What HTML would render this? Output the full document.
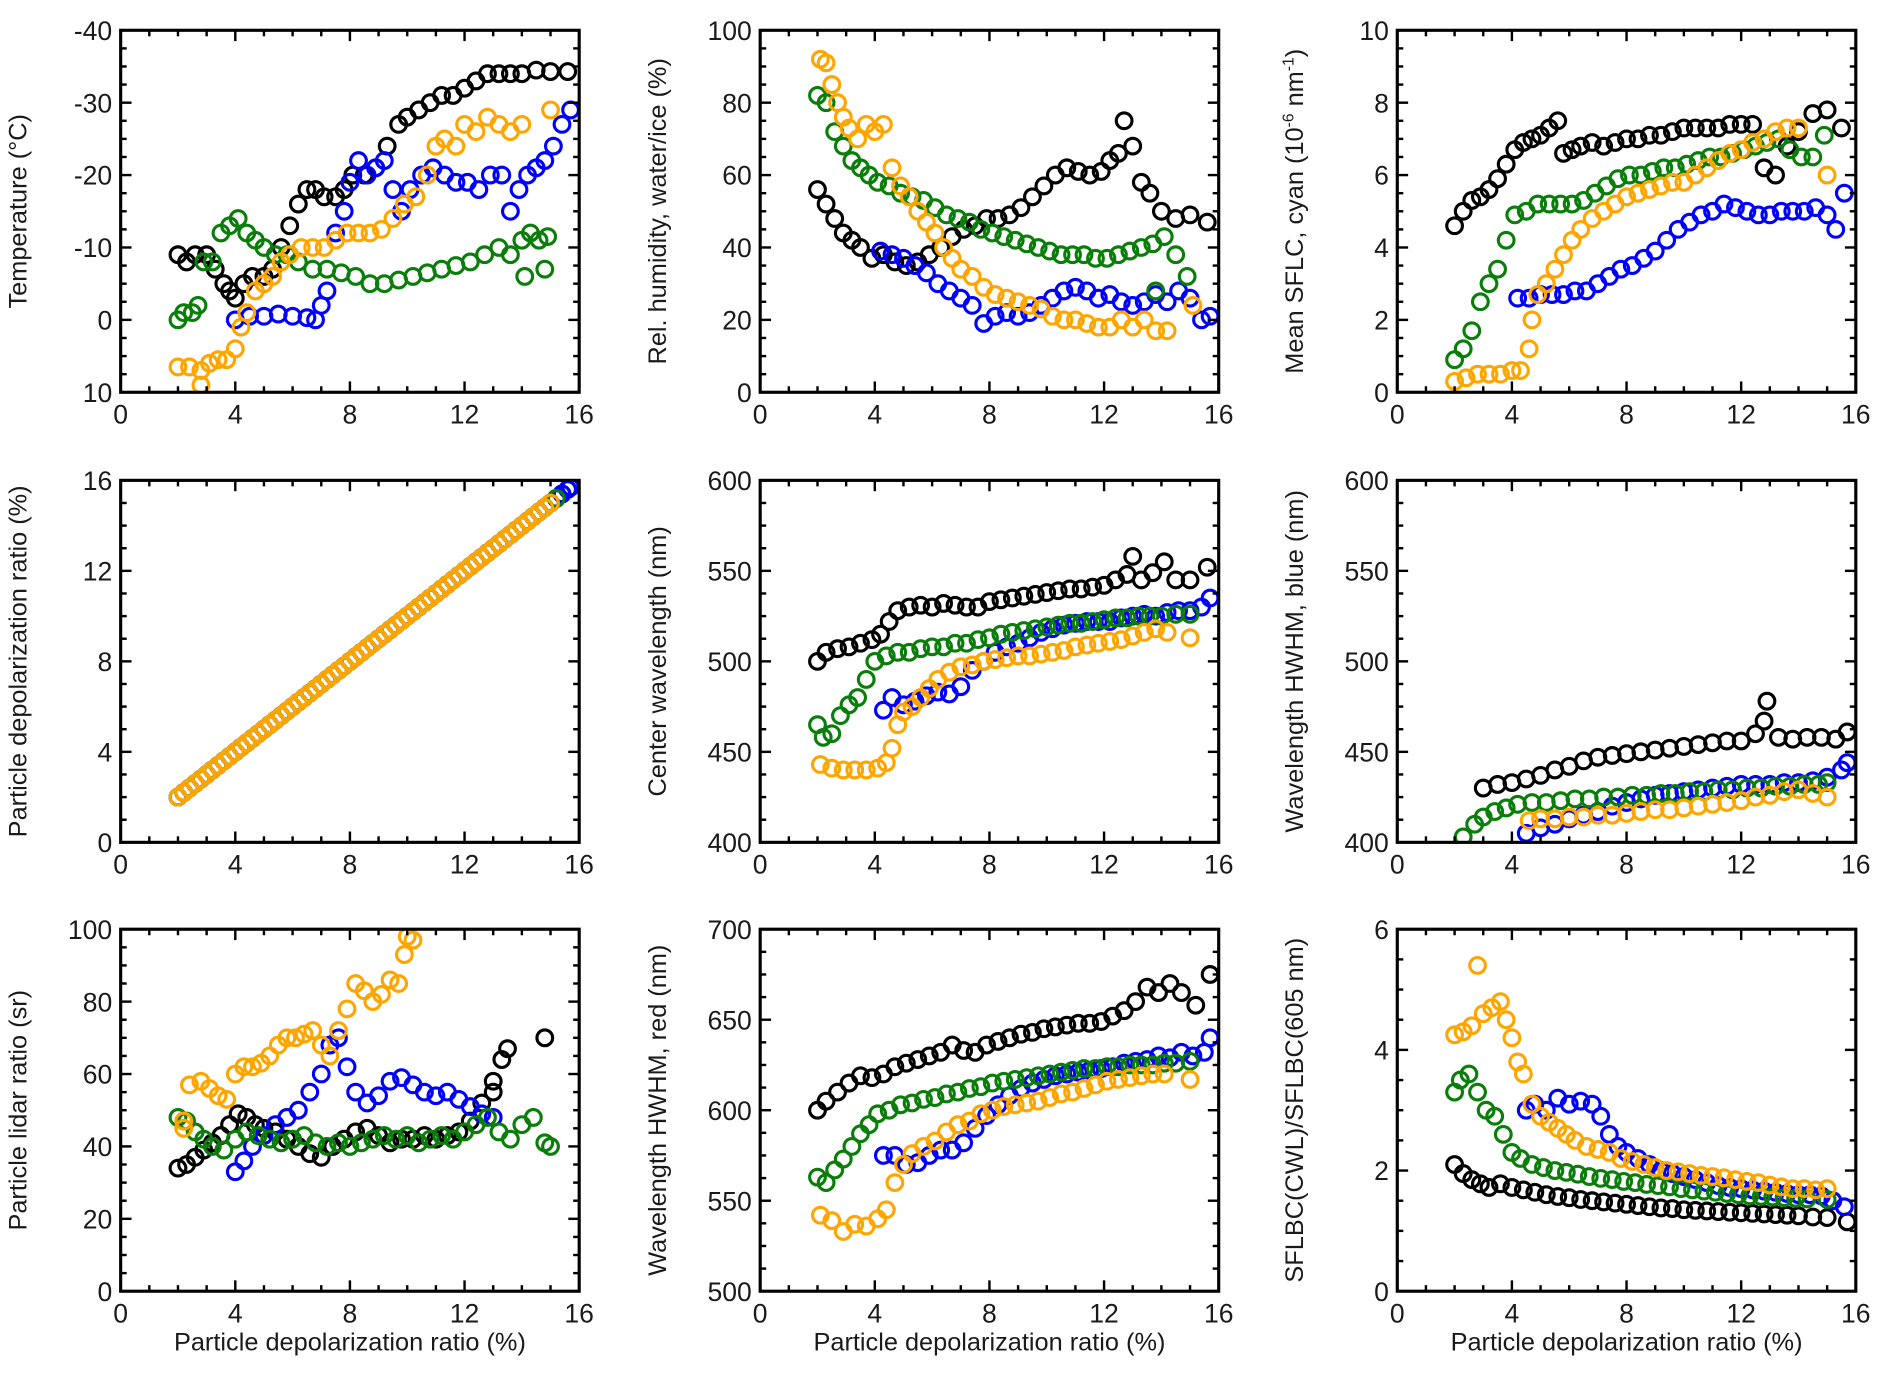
<!DOCTYPE html>
<html><head><meta charset="utf-8"><style>
html,body{margin:0;padding:0;background:#fff}
svg{display:block}
text{font-family:"Liberation Sans",Arial,sans-serif;fill:#1a1a1a}
</style></head><body>
<svg id="fig" width="1892" height="1377" viewBox="0 0 1568 1141" xmlns="http://www.w3.org/2000/svg"></svg>
<script>
// ---- data (x = particle depolarization ratio %, y = panel quantity) ----
const p1_black=[[2,-9],[2.3,-8],[2.6,-9],[3,-9],[3.3,-7],[3.6,-5],[3.8,-4],[4,-3],[4.3,-5],[4.6,-6],[5,-6],[5.3,-7],[5.6,-10],[5.9,-13],[6.2,-16],[6.5,-18],[6.8,-18],[7.1,-17],[7.5,-17],[7.8,-18],[8.1,-20],[8.5,-20],[8.9,-21],[9.3,-24],[9.7,-27],[10,-28],[10.4,-29],[10.8,-30],[11.2,-31],[11.6,-31],[12,-32],[12.4,-33],[12.8,-34],[13.2,-34],[13.6,-34],[14,-34],[14.5,-34.5],[15,-34.3],[15.6,-34.3]];
const p1_blue=[[4,0],[4.5,-0.5],[5,-0.5],[5.5,-0.8],[6,-0.5],[6.5,-0.3],[6.8,0],[7,-2],[7.2,-4],[7.5,-12],[7.8,-15],[8,-19],[8.3,-22],[8.6,-20],[8.9,-21],[9.2,-22],[9.5,-18],[9.8,-15],[10.1,-18],[10.5,-20],[10.9,-21],[11.3,-20],[11.7,-19],[12.1,-19],[12.5,-18],[12.9,-20],[13.3,-20],[13.6,-15],[13.9,-18],[14.2,-20],[14.5,-21],[14.8,-22],[15.1,-24],[15.4,-27],[15.7,-29]];
const p1_green=[[2,0],[2.2,-1],[2.5,-1],[2.7,-2],[2.9,-8],[3.2,-8],[3.5,-12],[3.8,-13],[4.1,-14],[4.4,-12],[4.7,-11],[5,-10],[5.4,-9],[5.8,-9],[6.2,-8],[6.7,-7],[7.2,-7],[7.7,-6.5],[8.2,-6],[8.7,-5],[9.2,-5],[9.7,-5.5],[10.2,-6],[10.7,-6.5],[11.2,-7],[11.7,-7.5],[12.2,-8],[12.7,-9],[13.2,-10],[13.6,-9],[14,-11],[14.3,-12],[14.6,-11],[14.9,-11.5],[14.1,-6],[14.8,-7]];
const p1_orange=[[2,6.5],[2.4,6.5],[2.8,7],[3.1,6],[3.4,5.5],[3.7,5.5],[4,4],[4.2,1],[4.4,-1],[4.7,-4],[5,-5],[5.3,-6],[5.6,-8],[5.9,-9],[6.3,-10],[6.7,-10],[7.1,-10],[7.5,-11],[7.9,-12],[8.3,-12],[8.7,-12],[9.1,-12.5],[9.5,-14],[9.9,-16],[10.3,-17],[10.7,-20],[11,-24],[11.3,-25],[11.7,-24],[12,-27],[12.4,-26],[12.8,-28],[13.2,-27],[13.6,-26],[14,-27],[15,-29],[2.8,9]];
const p2_black=[[2,56],[2.3,52],[2.6,48],[2.9,44],[3.2,42],[3.5,40],[3.9,37],[4.3,38],[4.7,36],[5.1,35],[5.5,36],[5.9,38],[6.3,40],[6.7,43],[7.1,45],[7.5,46],[7.9,48],[8.3,48],[8.7,49],[9.1,51],[9.5,54],[9.9,57],[10.3,60],[10.7,62],[11.1,61],[11.5,60],[11.9,61],[12.2,64],[12.5,66],[12.7,75],[13,68],[13.3,58],[13.6,55],[14,50],[14.5,48],[15,49],[15.6,47]];
const p2_blue=[[4.2,39],[4.6,38],[5,37],[5.4,35],[5.8,33],[6.2,30],[6.6,28],[7,26],[7.4,24],[7.8,19],[8.2,21],[8.6,22],[9,21],[9.4,22],[9.8,24],[10.2,26],[10.6,28],[11,29],[11.4,28],[11.8,26],[12.2,27],[12.6,25],[13,24],[13.4,25],[13.8,27],[14.2,25],[14.6,28],[15,26],[15.4,20],[15.7,21]];
const p2_green=[[2,82],[2.3,80],[2.6,72],[2.9,68],[3.2,64],[3.5,62],[3.8,60],[4.1,58],[4.5,57],[4.9,55],[5.3,54],[5.7,53],[6.1,51],[6.5,49],[6.9,48],[7.3,47],[7.7,45],[8.1,44],[8.5,43],[8.9,42],[9.3,41],[9.7,40],[10.1,39],[10.5,38],[10.9,38],[11.3,38],[11.7,37],[12.1,37],[12.5,38],[12.9,39],[13.3,40],[13.7,41],[14.1,43],[14.5,38],[14.9,32],[13.8,28]];
const p2_orange=[[2.1,92],[2.3,91],[2.5,85],[2.7,80],[2.9,76],[3.1,73],[3.4,70],[3.7,74],[4,72],[4.3,74],[4.6,62],[4.9,57],[5.2,54],[5.5,50],[5.8,47],[6.1,44],[6.4,40],[6.7,37],[7,34],[7.4,32],[7.8,29],[8.2,27],[8.6,26],[9,25],[9.4,24],[9.8,23],[10.2,21],[10.6,20],[11,20],[11.4,19],[11.8,18],[12.2,18],[12.6,20],[13,18],[13.4,20],[13.8,17],[14.2,17],[15.1,24]];
const p3_black=[[2,4.6],[2.3,5],[2.6,5.3],[2.9,5.4],[3.2,5.6],[3.5,5.9],[3.8,6.3],[4.1,6.7],[4.4,6.9],[4.7,7],[5,7.1],[5.3,7.3],[5.6,7.5],[5.8,6.6],[6.1,6.7],[6.4,6.8],[6.8,6.9],[7.2,6.8],[7.6,6.9],[8,7],[8.4,7],[8.8,7.1],[9.2,7.1],[9.6,7.2],[10,7.3],[10.4,7.3],[10.8,7.3],[11.2,7.3],[11.6,7.4],[12,7.4],[12.4,7.4],[12.8,6.2],[13.2,6],[13.6,6.8],[14,7.2],[14.5,7.7],[15,7.8],[15.5,7.3]];
const p3_blue=[[4.2,2.6],[4.6,2.6],[5,2.7],[5.4,2.7],[5.8,2.7],[6.2,2.8],[6.6,2.8],[7,3],[7.4,3.2],[7.8,3.4],[8.2,3.5],[8.6,3.7],[9,3.9],[9.4,4.2],[9.8,4.5],[10.2,4.7],[10.6,4.9],[11,5],[11.4,5.2],[11.8,5.1],[12.2,5],[12.6,4.9],[13,4.9],[13.4,5],[13.8,5],[14.2,5],[14.6,5.1],[15,4.9],[15.3,4.5],[15.6,5.5]];
const p3_green=[[2,0.9],[2.3,1.2],[2.6,1.7],[2.9,2.5],[3.2,3],[3.5,3.4],[3.8,4.2],[4.1,4.9],[4.5,5],[4.9,5.2],[5.3,5.2],[5.7,5.2],[6.1,5.2],[6.5,5.3],[6.9,5.5],[7.3,5.7],[7.7,5.9],[8.1,6],[8.5,6],[8.9,6.1],[9.3,6.2],[9.7,6.2],[10.1,6.3],[10.5,6.4],[10.9,6.5],[11.3,6.5],[11.7,6.6],[12.1,6.7],[12.5,6.8],[12.9,6.9],[13.3,7],[13.7,6.7],[14.1,6.5],[14.5,6.5],[14.9,7.1]];
const p3_orange=[[2,0.3],[2.4,0.4],[2.8,0.5],[3.2,0.5],[3.6,0.5],[4,0.6],[4.3,0.6],[4.6,1.2],[4.7,2],[4.9,2.7],[5.2,3],[5.5,3.4],[5.8,3.8],[6.1,4.2],[6.4,4.5],[6.8,4.8],[7.2,5],[7.6,5.2],[8,5.4],[8.4,5.5],[8.8,5.6],[9.2,5.7],[9.6,5.8],[10,5.8],[10.4,6],[10.8,6.2],[11.2,6.4],[11.6,6.6],[12,6.7],[12.4,6.9],[12.8,7],[13.2,7.2],[13.6,7.3],[14,7.3],[15,6]];
const p4_x=[2,2.2,2.4,2.6,2.8,3,3.2,3.4,3.6,3.8,4,4.2,4.4,4.6,4.8,5,5.2,5.4,5.6,5.8,6,6.2,6.4,6.6,6.8,7,7.2,7.4,7.6,7.8,8,8.2,8.4,8.6,8.8,9,9.2,9.4,9.6,9.8,10,10.2,10.4,10.6,10.8,11,11.2,11.4,11.6,11.8,12,12.2,12.4,12.6,12.8,13,13.2,13.4,13.6,13.8,14,14.2,14.4,14.6,14.8,15,15.2,15.4,15.6,15.7];
const p4_y=[2,2.2,2.4,2.6,2.8,3,3.2,3.4,3.6,3.8,4,4.2,4.4,4.6,4.8,5,5.2,5.4,5.6,5.8,6,6.2,6.4,6.6,6.8,7,7.2,7.4,7.6,7.8,8,8.2,8.4,8.6,8.8,9,9.2,9.4,9.6,9.8,10,10.2,10.4,10.6,10.8,11,11.2,11.4,11.6,11.8,12,12.2,12.4,12.6,12.8,13,13.2,13.4,13.6,13.8,14,14.2,14.4,14.6,14.8,15,15.2,15.4,15.6,15.7];
const p4_counts={black:70,blue:70,green:67,orange:66};
const p5_black=[[2,500],[2.3,505],[2.7,507],[3.1,508],[3.5,510],[3.9,512],[4.2,515],[4.5,522],[4.8,528],[5.2,530],[5.6,531],[6,530],[6.4,532],[6.8,531],[7.2,530],[7.6,530],[8,533],[8.4,534],[8.8,535],[9.2,536],[9.6,537],[10,538],[10.4,539],[10.8,540],[11.2,540],[11.6,541],[12,542],[12.4,545],[12.8,548],[13,558],[13.3,545],[13.7,549],[14.1,555],[14.5,545],[15,545],[15.6,552]];
const p5_blue=[[4.3,473],[4.6,480],[5,476],[5.4,478],[5.8,481],[6.2,483],[6.6,482],[7,486],[7.4,495],[7.8,500],[8.2,505],[8.6,508],[9,510],[9.4,513],[9.8,516],[10.2,518],[10.6,520],[11,521],[11.4,522],[11.8,522],[12.2,522],[12.6,524],[13,525],[13.4,526],[13.8,525],[14.2,527],[14.6,528],[15,528],[15.4,530],[15.7,535]];
const p5_green=[[2,465],[2.2,458],[2.5,460],[2.8,470],[3.1,476],[3.4,480],[3.7,490],[4,500],[4.4,503],[4.8,505],[5.2,505],[5.6,507],[6,508],[6.4,508],[6.8,510],[7.2,510],[7.6,512],[8,513],[8.4,515],[8.8,516],[9.2,517],[9.6,518],[10,519],[10.4,520],[10.8,521],[11.2,521],[11.6,522],[12,523],[12.4,524],[12.8,524],[13.2,525],[13.6,525],[14,525],[14.5,526],[15,526]];
const p5_orange=[[2.1,443],[2.5,441],[2.9,440],[3.3,440],[3.7,440],[4.1,441],[4.4,444],[4.6,452],[4.8,465],[5,472],[5.3,475],[5.6,480],[5.9,485],[6.2,490],[6.6,494],[7,497],[7.4,498],[7.8,500],[8.2,501],[8.6,502],[9,503],[9.4,503],[9.8,504],[10.2,505],[10.6,506],[11,508],[11.4,509],[11.8,510],[12.2,511],[12.6,512],[13,514],[13.4,516],[13.8,518],[14.2,516],[15,513]];
const p6_black=[[3,430],[3.5,432],[4,433],[4.5,435],[5,437],[5.5,440],[6,442],[6.5,445],[7,447],[7.5,448],[8,449],[8.5,450],[9,451],[9.5,452],[10,453],[10.5,454],[11,455],[11.5,456],[12,456],[12.5,460],[12.8,467],[12.9,478],[13.3,458],[13.8,457],[14.3,458],[14.8,458],[15.3,457],[15.7,461]];
const p6_blue=[[4.5,405],[5,408],[5.5,410],[6,413],[6.5,415],[7,417],[7.5,420],[8,422],[8.5,424],[9,426],[9.5,427],[10,428],[10.5,429],[11,430],[11.5,431],[12,432],[12.5,432],[13,432],[13.5,433],[14,433],[14.5,434],[15,436],[15.5,440],[15.7,444]];
const p6_green=[[2.3,403],[2.7,410],[3,414],[3.4,417],[3.8,419],[4.2,421],[4.7,422],[5.2,422],[5.7,423],[6.2,424],[6.7,424],[7.2,425],[7.7,425],[8.2,426],[8.7,426],[9.2,427],[9.7,427],[10.2,428],[10.7,428],[11.2,429],[11.7,429],[12.2,430],[12.7,430],[13.2,431],[13.7,431],[14.2,432],[14.7,432],[15,433]];
const p6_orange=[[4.6,412],[5,413],[5.5,413],[6,414],[6.5,414],[7,415],[7.5,415],[8,416],[8.5,417],[9,418],[9.5,418],[10,419],[10.5,420],[11,421],[11.5,422],[12,423],[12.5,425],[13,426],[13.5,428],[14,429],[14.5,427],[15,425]];
const p7_black=[[2,34],[2.3,35],[2.6,37],[2.9,39],[3.2,41],[3.5,43],[3.8,46],[4.1,49],[4.4,48],[4.7,46],[5,45],[5.4,44],[5.8,42],[6.2,40],[6.6,38],[7,37],[7.4,40],[7.8,42],[8.2,44],[8.6,45],[9,43],[9.4,41],[9.8,42],[10.2,42],[10.6,43],[11,42],[11.4,43],[11.8,44],[12.2,47],[12.6,52],[13,55],[13.3,64],[13.5,67],[14.8,70],[13,58]];
const p7_blue=[[4,33],[4.3,36],[4.6,40],[5,43],[5.4,46],[5.8,48],[6.2,50],[6.6,55],[7,60],[7.3,68],[7.6,70],[7.9,62],[8.2,55],[8.6,52],[9,54],[9.4,58],[9.8,59],[10.2,57],[10.6,55],[11,54],[11.4,55],[11.8,53],[12.2,51],[12.6,49],[13,48]];
const p7_green=[[2,48],[2.3,47],[2.6,44],[2.9,42],[3.2,40],[3.6,39],[4,42],[4.4,44],[4.8,43],[5.2,42],[5.6,41],[6,42],[6.4,43],[6.8,41],[7.2,40],[7.6,41],[8,40],[8.4,41],[8.8,42],[9.2,43],[9.6,42],[10,43],[10.4,41],[10.8,42],[11.2,43],[11.6,42],[12,44],[12.4,46],[12.8,48],[13.2,44],[13.6,42],[14,46],[14.4,48],[14.8,41],[15,40]];
const p7_orange=[[2.2,45],[2.2,47],[2.4,57],[2.8,58],[3.1,56],[3.4,54],[3.7,53],[4,60],[4.3,62],[4.6,62],[4.9,63],[5.2,65],[5.5,68],[5.8,70],[6.1,70],[6.4,71],[6.7,72],[7,68],[7.3,65],[7.6,72],[7.9,78],[8.2,85],[8.5,83],[8.8,80],[9.1,82],[9.4,86],[9.7,85],[9.9,93],[10,98],[10.2,97]];
const p8_black=[[2,600],[2.3,605],[2.7,610],[3.1,615],[3.5,619],[3.9,618],[4.3,620],[4.7,624],[5.1,626],[5.5,628],[5.9,630],[6.3,632],[6.7,636],[7.1,633],[7.5,632],[7.9,636],[8.3,638],[8.7,640],[9.1,642],[9.5,643],[9.9,645],[10.3,646],[10.7,647],[11.1,648],[11.5,648],[11.9,649],[12.3,652],[12.7,655],[13.1,660],[13.5,668],[13.9,665],[14.3,670],[14.7,665],[15.2,658],[15.7,675]];
const p8_blue=[[4.3,575],[4.7,575],[5.1,570],[5.5,571],[5.9,575],[6.3,578],[6.7,578],[7.1,582],[7.5,590],[7.9,597],[8.3,603],[8.7,608],[9.1,612],[9.5,615],[9.9,617],[10.3,619],[10.7,620],[11.1,621],[11.5,622],[11.9,623],[12.3,624],[12.7,626],[13.1,627],[13.5,628],[13.9,630],[14.3,629],[14.7,632],[15.1,630],[15.5,632],[15.7,640]];
const p8_green=[[2,563],[2.3,560],[2.6,567],[2.9,573],[3.2,580],[3.5,587],[3.8,592],[4.1,598],[4.5,600],[4.9,603],[5.3,604],[5.7,606],[6.1,607],[6.5,609],[6.9,610],[7.3,612],[7.7,613],[8.1,615],[8.5,616],[8.9,617],[9.3,618],[9.7,619],[10.1,620],[10.5,621],[10.9,622],[11.3,623],[11.7,623],[12.1,624],[12.5,624],[12.9,625],[13.3,625],[13.7,625],[14.1,626],[14.5,626],[15,627]];
const p8_orange=[[2.1,542],[2.5,539],[2.9,533],[3.3,537],[3.7,536],[4.1,540],[4.4,545],[4.7,560],[5,570],[5.3,576],[5.7,580],[6.1,583],[6.5,588],[6.9,592],[7.3,594],[7.7,598],[8.1,600],[8.5,602],[8.9,603],[9.3,604],[9.7,605],[10.1,607],[10.5,609],[10.9,610],[11.3,612],[11.7,614],[12.1,616],[12.5,617],[12.9,618],[13.3,619],[13.7,620],[14.1,620],[15,617]];
const p9_black=[[2,2.1],[2.3,1.95],[2.6,1.85],[2.9,1.78],[3.2,1.72],[3.6,1.78],[4,1.72],[4.4,1.68],[4.8,1.64],[5.2,1.6],[5.6,1.57],[6,1.55],[6.4,1.52],[6.8,1.5],[7.2,1.48],[7.6,1.46],[8,1.44],[8.4,1.42],[8.8,1.4],[9.2,1.38],[9.6,1.37],[10,1.35],[10.4,1.34],[10.8,1.33],[11.2,1.32],[11.6,1.31],[12,1.3],[12.4,1.29],[12.8,1.28],[13.2,1.27],[13.6,1.26],[14,1.25],[14.5,1.23],[15,1.22],[15.7,1.15]];
const p9_blue=[[4.5,3],[4.8,3.1],[5.2,3],[5.6,3.2],[6,3.1],[6.4,3.15],[6.8,3.1],[7.1,2.9],[7.4,2.6],[7.7,2.4],[8,2.3],[8.4,2.2],[8.8,2.1],[9.2,2.0],[9.6,1.95],[10,1.9],[10.4,1.85],[10.8,1.8],[11.2,1.75],[11.6,1.72],[12,1.7],[12.4,1.68],[12.8,1.66],[13.2,1.64],[13.6,1.62],[14,1.6],[14.4,1.6],[14.8,1.58],[15.2,1.5],[15.6,1.4]];
const p9_green=[[2,3.3],[2.2,3.5],[2.5,3.6],[2.8,3.3],[3.1,3],[3.4,2.9],[3.7,2.6],[4,2.3],[4.3,2.2],[4.7,2.1],[5.1,2.05],[5.5,2],[5.9,1.97],[6.3,1.94],[6.7,1.9],[7.1,1.87],[7.5,1.85],[7.9,1.82],[8.3,1.8],[8.7,1.77],[9.1,1.75],[9.5,1.73],[9.9,1.7],[10.3,1.68],[10.7,1.66],[11.1,1.64],[11.5,1.62],[11.9,1.6],[12.3,1.58],[12.7,1.57],[13.1,1.56],[13.5,1.55],[13.9,1.54],[14.3,1.53],[15,1.52]];
const p9_orange=[[2,4.25],[2.3,4.3],[2.6,4.4],[2.8,5.4],[3,4.6],[3.3,4.7],[3.6,4.8],[3.8,4.5],[4,4.2],[4.2,3.8],[4.4,3.6],[4.7,3.1],[5,2.9],[5.3,2.8],[5.6,2.7],[5.9,2.6],[6.2,2.5],[6.6,2.4],[7,2.35],[7.4,2.3],[7.8,2.2],[8.2,2.15],[8.6,2.1],[9,2.05],[9.4,2.0],[9.8,1.98],[10.2,1.95],[10.6,1.92],[11,1.9],[11.4,1.88],[11.8,1.85],[12.2,1.82],[12.6,1.8],[13,1.76],[13.4,1.73],[13.8,1.7],[14.2,1.7],[14.6,1.68],[15,1.7]];
const xTicks=[0,4,8,12,16];
const yTicks1=[10,0,-10,-20,-30,-40];
const yTicks2=[0,20,40,60,80,100];
const yTicks3=[0,2,4,6,8,10];
const yTicks4=[0,4,8,12,16];
const yTicks5=[400,450,500,550,600];
const yTicks7=[0,20,40,60,80,100];
const yTicks8=[500,550,600,650,700];
const yTicks9=[0,2,4,6];

const p4series={};
['black','blue','green','orange'].forEach(k=>{p4series[k]=p4_x.slice(0,p4_counts[k]).map((x,i)=>[x,p4_y[i]]);});

const NS='http://www.w3.org/2000/svg';
const svg=document.getElementById('fig');
function el(tag,attrs,parent){const e=document.createElementNS(NS,tag);for(const k in attrs)e.setAttribute(k,attrs[k]);(parent||svg).appendChild(e);return e;}
const COLORS={black:'#000000',blue:'#0000ff',green:'#0a7d0a',orange:'#ffa500'};
const colX=[100,630,1158], rowY=[25,398,770], W=380, H=300;

const panels=[
 {id:'temperature',c:0,r:0,yd:[10,-40],yt:yTicks1,title:'Temperature (°C)',s:{black:p1_black,blue:p1_blue,green:p1_green,orange:p1_orange}},
 {id:'rel-humidity',c:1,r:0,yd:[0,100],yt:yTicks2,title:'Rel. humidity, water/ice (%)',s:{black:p2_black,blue:p2_blue,green:p2_green,orange:p2_orange}},
 {id:'mean-sflc',c:2,r:0,yd:[0,10],yt:yTicks3,title:'SFLC',s:{black:p3_black,blue:p3_blue,green:p3_green,orange:p3_orange}},
 {id:'depol-ratio',c:0,r:1,yd:[0,16],yt:yTicks4,title:'Particle depolarization ratio (%)',s:p4series},
 {id:'center-wavelength',c:1,r:1,yd:[400,600],yt:yTicks5,title:'Center wavelength (nm)',s:{black:p5_black,blue:p5_blue,green:p5_green,orange:p5_orange}},
 {id:'hwhm-blue',c:2,r:1,yd:[400,600],yt:yTicks5,title:'Wavelength HWHM, blue (nm)',s:{black:p6_black,blue:p6_blue,green:p6_green,orange:p6_orange}},
 {id:'lidar-ratio',c:0,r:2,yd:[0,100],yt:yTicks7,title:'Particle lidar ratio (sr)',s:{black:p7_black,blue:p7_blue,green:p7_green,orange:p7_orange}},
 {id:'hwhm-red',c:1,r:2,yd:[500,700],yt:yTicks8,title:'Wavelength HWHM, red (nm)',s:{black:p8_black,blue:p8_blue,green:p8_green,orange:p8_orange}},
 {id:'sflbc-ratio',c:2,r:2,yd:[0,6],yt:yTicks9,title:'SFLBC(CWL)/SFLBC(605 nm)',s:{black:p9_black,blue:p9_blue,green:p9_green,orange:p9_orange}}
];

panels.forEach(p=>{
  const x0=colX[p.c], y0=rowY[p.r];
  const g=el('g',{});
  
  
  const sx=v=>x0+(v-0)/16*W;
  const sy=v=>y0+H-(v-p.yd[0])/(p.yd[1]-p.yd[0])*H;
  const cid='clip-'+p.id;
  const cp=el('clipPath',{id:cid},g);
  el('rect',{x:x0,y:y0,width:W,height:H},cp);
  const dg=el('g',{'clip-path':'url(#'+cid+')'},g);
  ['black','blue','green','orange'].forEach(k=>{
    const sg=el('g',{fill:'none',stroke:COLORS[k],'stroke-width':2.6},dg);
    
    
    p.s[k].forEach(pt=>{
      const c=el('circle',{cx:sx(pt[0]),cy:sy(pt[1]),r:6.5},sg);
      
      
    });
  });
  const fr=el('rect',{x:x0,y:y0,width:W,height:H,fill:'none',stroke:'#000','stroke-width':2.6},g);
  
  
  const tk=el('g',{stroke:'#000','stroke-width':2},g);
  for(let i=0;i<xTicks.length;i++){
    const v=xTicks[i];
    if(i>0&&i<xTicks.length-1){el('line',{x1:sx(v),y1:y0+H,x2:sx(v),y2:y0+H-9},tk);el('line',{x1:sx(v),y1:y0,x2:sx(v),y2:y0+9},tk);}
    if(i<xTicks.length-1){const st=(xTicks[i+1]-v)/4;for(let j=1;j<4;j++){const xx=sx(v+j*st);el('line',{x1:xx,y1:y0+H,x2:xx,y2:y0+H-5},tk);el('line',{x1:xx,y1:y0,x2:xx,y2:y0+5},tk);}}
    const t=el('text',{x:sx(v),y:y0+H+26,'text-anchor':'middle','font-size':22},g);
    t.textContent=v;
    
    
  }
  for(let i=0;i<p.yt.length;i++){
    const v=p.yt[i];
    if(i>0&&i<p.yt.length-1){el('line',{x1:x0,y1:sy(v),x2:x0+9,y2:sy(v)},tk);el('line',{x1:x0+W,y1:sy(v),x2:x0+W-9,y2:sy(v)},tk);}
    if(i<p.yt.length-1){const st=(p.yt[i+1]-v)/4;for(let j=1;j<4;j++){const yy=sy(v+j*st);el('line',{x1:x0,y1:yy,x2:x0+5,y2:yy},tk);el('line',{x1:x0+W,y1:yy,x2:x0+W-5,y2:yy},tk);}}
    const t=el('text',{x:x0-7,y:sy(v)+8,'text-anchor':'end','font-size':22},g);
    t.textContent=v;
    
    
  }
  const tx=x0-78, ty=y0+H/2;
  const yt=el('text',{x:tx,y:ty,'text-anchor':'middle','font-size':21,transform:'rotate(-90 '+tx+' '+ty+')'},g);
  
  
  if(p.title==='SFLC'){
    yt.innerHTML='Mean SFLC, cyan (10<tspan font-size="13" dy="-8">-6</tspan><tspan dy="8"> nm</tspan><tspan font-size="13" dy="-8">-1</tspan><tspan dy="8">)</tspan>';
  } else yt.textContent=p.title;
  if(p.r===2){
    const xt=el('text',{x:x0+W/2,y:y0+H+49,'text-anchor':'middle','font-size':21},g);
    xt.textContent='Particle depolarization ratio (%)';
    
    
  }
});
</script>
</body></html>
